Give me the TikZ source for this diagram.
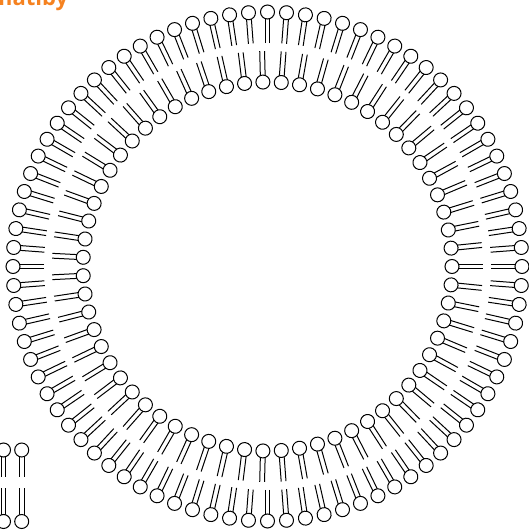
\documentclass[tikz,border=0pt]{standalone}
\usepackage{fontspec}
\usepackage{tikz}
\newfontfamily\titlefont{Open Sans}
\definecolor{titleorange}{RGB}{245,130,32}

\begin{document}
\begin{tikzpicture}[x=1pt, y=1pt, line width=1pt,
    head/.style={draw=black, fill=white}]
    \useasboundingbox (-267.5,-263.5) rectangle (261.5,266.5);

    % Title (runs off the top edge)
    \node[anchor=base west, inner sep=0, text=titleorange,
          font=\titlefont\bfseries\fontsize{22}{26}\selectfont] (title) at (-277,261) {matiby};

    % Outer leaflet: 84 lipids, heads out
    \foreach \i in {0,...,83} {
        \begin{scope}[rotate={\i*(360/84)}]
            \draw (223.5,2.4) -- (254.5,2.4);
            \draw (223.5,-2.4) -- (254.5,-2.4);
            \draw[head] (254.5,0) circle (7pt);
        \end{scope}
    }

    % Inner leaflet: 63 lipids, heads in
    \foreach \i in {0,...,62} {
        \begin{scope}[rotate={\i*(360/63)}]
            \draw (184.5,2.4) -- (215.5,2.4);
            \draw (184.5,-2.4) -- (215.5,-2.4);
            \draw[head] (184.5,0) circle (7pt);
        \end{scope}
    }

    % Piece of a flat bilayer in the corner
    \foreach \x in {-264,-245.8} {
        \draw (\x-2.4,-183.5) -- (\x-2.4,-210.5);
        \draw (\x+2.4,-183.5) -- (\x+2.4,-210.5);
        \draw[head] (\x,-183.5) circle (7pt);
        \draw (\x-2.4,-221.5) -- (\x-2.4,-255);
        \draw (\x+2.4,-221.5) -- (\x+2.4,-255);
        \draw[head] (\x,-255) circle (7pt);
    }
\end{tikzpicture}
\end{document}
